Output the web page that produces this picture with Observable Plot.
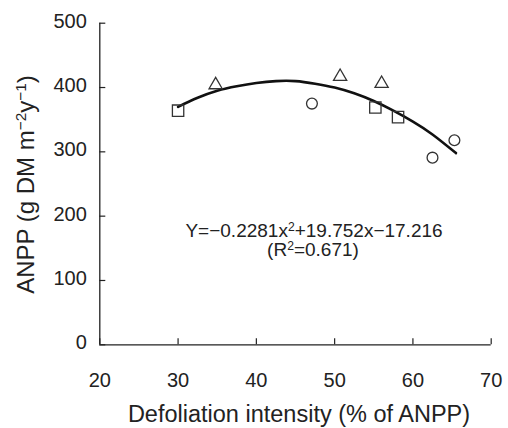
<!DOCTYPE html>
<html><head><meta charset="utf-8">
<script src="https://cdn.jsdelivr.net/npm/d3@7"></script>
<script src="https://cdn.jsdelivr.net/npm/@observablehq/plot@0.6"></script>
<style>html,body{margin:0;padding:0;background:#fff} svg{display:block}</style>
</head><body><div id="chart"></div>
<script>
// observed points
const defoliation = [30.0, 34.8, 47.1, 50.7, 56.0, 55.2, 58.1, 62.5, 65.3];
const anpp        = [364, 404, 375, 417, 406, 369, 354, 291, 318];
const symbolKind  = ["square","triangle","circle","triangle","triangle","square","square","circle","circle"];
// fitted curve
const fitX = [30, 32.5, 35, 37.5, 40, 42.5, 45, 47.5, 50, 52.5, 55, 57.5, 60, 62.5, 65.5];
const fitY = [370, 384, 395, 402, 407, 410, 410, 406, 400, 391, 379, 364, 347, 327, 298];
const xTicks = [20, 30, 40, 50, 60, 70];
const yTicks = [0, 100, 200, 300, 400, 500];
const xTitle = "Defoliation intensity (% of ANPP)";
const yTitleParts = [["ANPP (g DM m", false], ["\u22122", true], ["y", false], ["\u22121", true], [")", false]];
const eqParts = [["Y=\u22120.2281x", false], ["2", true], ["+19.752x\u221217.216", false]];
const r2Parts = [["(R", false], ["2", true], ["=0.671)", false]];

const join = p => p.map(d => d[0]).join("");
const points = defoliation.map((x, i) => ({x, y: anpp[i], s: symbolKind[i]}));
const fit = fitX.map((x, i) => ({x, y: fitY[i]}));
const font = "'Liberation Sans', Arial, Helvetica, sans-serif";
const ink = "#222";

const chart = Plot.plot({
  width: 508, height: 428,
  marginLeft: 99.3, marginRight: 17.3, marginTop: 22.7, marginBottom: 83.7,
  x: {domain: [20, 70]},
  y: {domain: [0, 500]},
  style: {fontFamily: font, color: ink, background: "#fff", overflow: "visible"},
  marks: [
    Plot.axisY(yTicks, {tickSize: 0, tickPadding: 13, fontSize: 20, dy: -2, label: null, fill: ink}),
    Plot.axisY(yTicks, {text: null, tickSize: 6, dx: 6, label: null, stroke: ink, strokeWidth: 1.2}),
    Plot.axisX(xTicks, {tickSize: 0, tickPadding: 28, fontSize: 20, label: null, fill: ink}),
    Plot.axisX(xTicks, {text: null, tickSize: 6, dy: -6, label: null, stroke: ink, strokeWidth: 1.2}),
    Plot.ruleX([20], {y1: 0, y2: 500, stroke: ink, strokeWidth: 1.3}),
    Plot.ruleY([0], {x1: 20, x2: 70, stroke: ink, strokeWidth: 1.3}),
    Plot.line(fit, {x: "x", y: "y", curve: "natural", stroke: "#111", strokeWidth: 2.6}),
    Plot.dot(points.filter(d => d.s === "square"), {x: "x", y: "y", symbol: "square", r: 6.4, stroke: "#333", strokeWidth: 1.3, fill: "none"}),
    Plot.dot(points.filter(d => d.s === "triangle"), {x: "x", y: "y", symbol: "triangle", r: 4.9, stroke: "#333", strokeWidth: 1.3, fill: "none"}),
    Plot.dot(points.filter(d => d.s === "circle"), {x: "x", y: "y", symbol: "circle", r: 5.4, stroke: "#333", strokeWidth: 1.3, fill: "none"}),
    Plot.text([join(eqParts)], {frameAnchor: "middle", dx: 18.5, dy: 47, fontSize: 19, fill: ink}),
    Plot.text([join(r2Parts)], {frameAnchor: "middle", dx: 17.5, dy: 66, fontSize: 19, fill: ink}),
    Plot.text([xTitle], {frameAnchor: "bottom", lineAnchor: "top", textAnchor: "middle", dx: 3.5, dy: 60.5, fontSize: 23.5, fill: ink}),
    Plot.text([join(yTitleParts)], {frameAnchor: "left", lineAnchor: "top", textAnchor: "middle", rotate: -90, dx: -83, dy: 0.5, fontSize: 24, fill: ink})
  ]
});
document.getElementById("chart").appendChild(chart);

function richText(svg, parts, fontSize) {
  const match = join(parts);
  d3.select(svg).selectAll("text").filter(function () { return this.textContent === match; }).each(function () {
    const t = d3.select(this);
    t.text(null);
    let shift = 0;
    for (const [s, sup] of parts) {
      const target = sup ? -0.34 * fontSize : 0;
      const span = t.append("tspan").text(s);
      if (target - shift !== 0) span.attr("dy", target - shift);
      if (sup) span.attr("font-size", fontSize * 0.64);
      shift = target;
    }
  });
}
richText(chart, eqParts, 19);
richText(chart, r2Parts, 19);
richText(chart, yTitleParts, 24);
</script>
</body></html>
